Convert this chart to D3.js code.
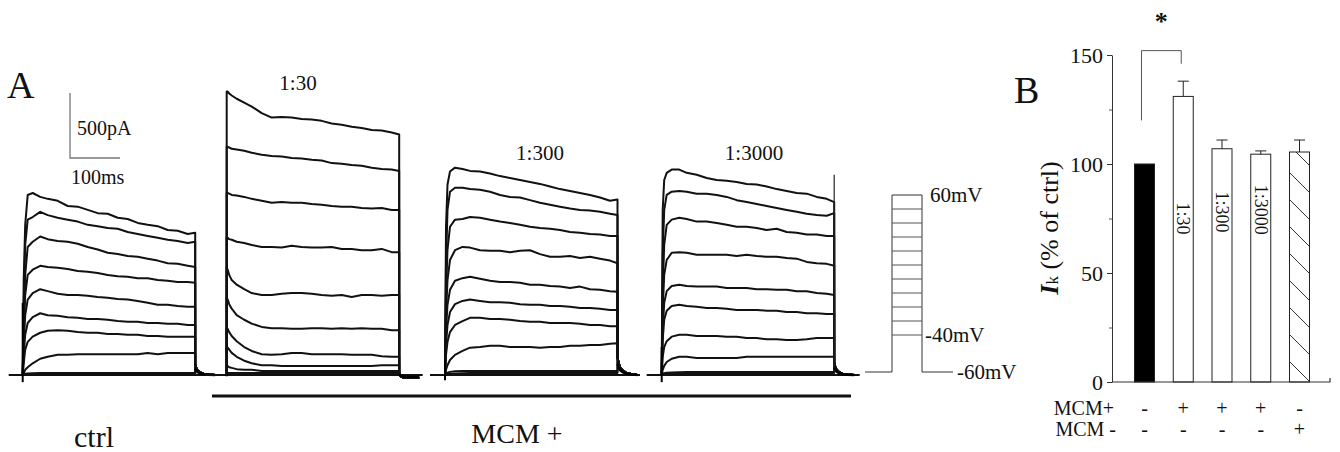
<!DOCTYPE html>
<html><head><meta charset="utf-8">
<script src="https://cdn.jsdelivr.net/npm/d3@7"></script>
<style>
body{margin:0;background:#fff}
svg{display:block}
svg text{font-family:"Liberation Serif","Tinos","DejaVu Serif","Times New Roman",Times,serif !important;fill:#111}
</style>
</head><body>
<svg id="c" width="1340" height="452" font-family="Liberation Serif, Tinos, DejaVu Serif, serif"></svg>
<script>
// ---------- DATA: panel A (current traces, pA vs ms) ----------
const timesMs = [0,2,5,10,20,35,50,70,90,110,130,150,170,190,210,230,250,270,290,310,330,345];
const tailTimesMs = [345,347,350,355,362,372,385];
const panelLabels = ["ctrl","1:30","1:300","1:3000"];

const ctrlTraces = [
  [0,730,1155,1385,1400,1370,1355,1340,1300,1295,1270,1245,1240,1210,1200,1170,1155,1145,1115,1110,1085,1095],
  [0,540,1000,1195,1215,1255,1230,1210,1195,1180,1155,1145,1130,1125,1100,1085,1070,1055,1040,1030,1015,1025],
  [0,385,770,985,1025,1065,1045,1030,1025,1010,985,965,940,930,915,910,895,880,860,855,840,830],
  [0,310,615,770,810,840,830,825,815,800,795,785,770,760,755,745,745,730,725,715,715,710],
  [0,230,460,580,630,660,645,625,615,615,610,600,595,585,580,570,555,540,540,530,525,525],
  [0,155,310,400,445,475,460,455,445,440,430,430,425,415,410,410,400,400,395,395,385,385],
  [0,90,195,255,295,325,340,345,340,330,325,325,315,315,310,310,300,300,295,295,295,295],
  [0,15,40,60,90,125,140,155,155,160,160,160,160,160,160,160,170,160,170,170,170,170],
  [0,5,10,12,14,15,15,15,15,15,15,15,15,15,15,15,15,15,15,15,15,15],
  [0,3,5,6,7,8,8,8,8,8,8,8,8,8,8,8,8,8,8,8,8,8]
];
const mcm30Traces = [
  [2180,2180,2165,2150,2125,2095,2065,2015,1980,1985,1980,1970,1965,1955,1935,1925,1910,1900,1885,1880,1865,1850],
  [1755,1755,1750,1740,1735,1725,1710,1695,1685,1680,1670,1665,1655,1650,1630,1625,1615,1610,1595,1585,1580,1570],
  [1400,1400,1395,1385,1380,1370,1355,1340,1325,1330,1325,1325,1315,1310,1300,1295,1295,1285,1280,1285,1270,1270],
  [1055,1055,1045,1040,1025,1015,1000,985,985,980,995,985,980,980,985,970,970,960,960,970,945,945],
  [825,810,770,730,695,660,630,615,615,625,630,630,625,615,610,615,600,615,615,610,615,615],
  [595,580,545,510,460,425,395,370,360,360,355,355,360,360,355,360,355,360,355,355,345,345],
  [360,355,330,300,260,215,185,160,155,160,170,170,160,160,160,160,155,155,155,145,140,140],
  [215,210,195,170,140,110,90,75,75,70,70,70,70,70,70,70,70,70,70,75,75,75],
  [70,70,60,55,45,40,40,30,30,30,30,30,30,30,30,30,30,30,30,30,30,30],
  [15,15,15,15,15,15,15,15,15,15,15,15,15,15,15,15,15,15,15,15,15,15]
];
const mcm300Traces = [
  [0,1140,1465,1565,1595,1585,1570,1565,1550,1530,1515,1500,1485,1470,1450,1430,1415,1400,1385,1365,1340,1350],
  [0,845,1270,1410,1440,1440,1430,1425,1410,1385,1370,1365,1345,1325,1310,1295,1280,1270,1265,1255,1240,1230],
  [0,615,965,1140,1195,1200,1215,1210,1195,1180,1170,1155,1140,1130,1125,1115,1100,1095,1085,1080,1070,1070],
  [0,460,730,885,960,985,980,960,955,955,945,955,960,930,910,910,915,900,910,895,880,860],
  [0,345,540,655,725,745,755,740,725,715,715,710,695,695,685,680,670,680,660,655,645,640],
  [0,230,385,485,545,570,580,570,560,560,555,545,540,540,530,530,525,515,515,510,500,500],
  [0,155,255,330,385,415,440,440,430,430,425,415,410,410,400,400,400,395,385,385,375,375],
  [0,40,75,115,155,185,210,215,225,225,215,215,215,210,215,215,225,225,230,230,240,245],
  [0,10,18,24,28,30,30,30,30,30,30,30,30,30,30,30,30,30,30,30,30,30],
  [0,5,8,10,12,14,15,15,15,15,15,15,15,15,15,15,15,15,15,15,15,15]
];
const mcm3000Traces = [
  [0,1270,1500,1555,1580,1580,1555,1540,1515,1500,1495,1485,1470,1465,1450,1430,1415,1400,1395,1370,1355,1330],
  [0,925,1270,1385,1410,1415,1410,1395,1395,1385,1370,1345,1330,1315,1300,1285,1270,1255,1240,1230,1225,1245],
  [0,655,1000,1155,1195,1210,1200,1180,1180,1170,1155,1140,1140,1130,1115,1125,1100,1095,1080,1080,1070,1070],
  [0,500,770,885,940,945,940,925,925,925,925,915,925,915,910,910,900,895,870,860,855,840],
  [0,345,555,645,685,695,685,680,680,680,670,670,670,660,660,655,655,645,645,630,625,615],
  [0,270,425,495,530,540,530,525,515,515,510,500,500,500,495,495,485,485,475,475,470,470],
  [0,140,215,260,295,310,310,300,300,300,295,295,285,285,275,275,270,270,275,285,285,285],
  [0,40,70,100,125,140,140,130,130,130,130,130,140,140,140,140,140,140,140,140,140,140],
  [0,8,14,18,20,22,23,23,23,23,23,23,23,23,23,23,23,23,23,23,23,23],
  [0,4,8,10,12,14,15,15,15,15,15,15,15,15,15,15,15,15,15,15,15,15]
];
const tailCurrents = [
  [80,55,35,20,10,4,0],
  [10,-5,-15,-20,-22,-22,-22],
  [140,95,60,35,18,8,0],
  [95,65,40,22,10,4,0]
];
const onsetTransientUp = [555,0,115,215];
const onsetTransientDown = [-55,-10,-40,-55];
const offsetTransientUp = [0,0,0,1540];
const baselineSpanMs = [[-28,385],[-43,392],[-30,390],[-30,396]];

// voltage protocol
const stepVoltages = [60,50,40,30,20,10,0,-10,-20,-30,-40];
const holdingVoltage = -60;
const protocolLabels = ["60mV","-40mV","-60mV"];

// ---------- DATA: panel B ----------
const barCats = ["ctrl","1:30","1:300","1:3000","MCM-"];
const barValues = [100,131,107,104.5,105.5];
const barErrors = [0,7,4,1.5,5.5];
const barInnerLabels = ["","1:30","1:300","1:3000",""];
const mcmPlusRow = ["-","+","+","+","-"];
const mcmMinusRow = ["-","-","-","-","+"];
const yTickValues = [0,50,100,150];
const yMinorTicks = [25,75,125];
const sigBracket = {from:0,to:1,top:152,leftEnd:120,rightEnd:146,label:"*"};

// ---------- DRAW ----------
const SERIF = "Liberation Serif, Tinos, DejaVu Serif, Times New Roman, serif";
const svg = d3.select("#c");
svg.append("rect").attr("width",1340).attr("height",452).attr("fill","#fff");
function txt(g, x, y, s, size){
  return g.append("text").attr("x",x).attr("y",y).attr("font-size",size)
    .attr("font-family",SERIF).text(s);
}

const allTraces = [ctrlTraces, mcm30Traces, mcm300Traces, mcm3000Traces];
const onsetX = [22.7, 226.7, 445, 661.7];
const yI = d3.scaleLinear().domain([0,500]).range([375,310]);
const xScales = onsetX.map(x0 => d3.scaleLinear().domain([0,345]).range([x0, x0+172.5]));

const gA = svg.append("g");
allTraces.forEach((traces, p) => {
  const xs = xScales[p];
  const line = d3.line().x(d=>xs(d[0])).y(d=>yI(d[1]));
  gA.append("path")
    .attr("d", line([[baselineSpanMs[p][0],0],[baselineSpanMs[p][1],0]]))
    .attr("stroke","#111").attr("stroke-width",2.2).attr("fill","none");
  traces.forEach(vals => {
    const pts = [[0,0]].concat(timesMs.map((t,i)=>[t, vals[i]]))
      .concat(tailTimesMs.map((t,i)=>[t, tailCurrents[p][i]]));
    gA.append("path").attr("d", line(pts))
      .attr("stroke","#111").attr("stroke-width",2).attr("fill","none")
      .attr("stroke-linejoin","round");
  });
  gA.append("path").attr("d", line([[0,onsetTransientDown[p]],[0,onsetTransientUp[p]]]))
    .attr("stroke","#000").attr("stroke-width",2).attr("fill","none");
  if (offsetTransientUp[p] > 0) {
    gA.append("path").attr("d", line([[345,0],[345,offsetTransientUp[p]]]))
      .attr("stroke","#222").attr("stroke-width",1.2).attr("fill","none");
  }
  gA.append("path").attr("d", line(tailTimesMs.map((t,i)=>[t, tailCurrents[p][i]*0.6])))
    .attr("stroke","#000").attr("stroke-width",2.4).attr("fill","none");
});

// scale bar (500 pA, 100 ms)
const sbX = 70, sbY = 158;
const sbW = xScales[0](100) - xScales[0](0);
const sbH = yI(0) - yI(500);
gA.append("path").attr("d",`M${sbX},${sbY-sbH}V${sbY}H${sbX+sbW}`)
  .attr("stroke","#777").attr("stroke-width",1.3).attr("fill","none");
txt(gA,77,135,"500pA",20);
txt(gA,71,184,"100ms",20);

txt(svg,7,98,"A",38);

const dilLabelPos = [[298,90],[540,160],[754,160]];
[1,2,3].forEach((p,i)=>{
  txt(svg,dilLabelPos[i][0],dilLabelPos[i][1],panelLabels[p],21).attr("text-anchor","middle");
});

txt(svg,94,447,panelLabels[0],30).attr("text-anchor","middle");
svg.append("line").attr("x1",212).attr("x2",851).attr("y1",396).attr("y2",396)
  .attr("stroke","#111").attr("stroke-width",3.2);
txt(svg,517,443,"MCM +",28).attr("text-anchor","middle");

// voltage protocol
const yV = d3.scaleLinear().domain([-60,-40,60]).range([372,335,195]);
const pL = 892, pR = 922;
const gP = svg.append("g").attr("stroke","#333").attr("stroke-width",1).attr("fill","none");
gP.append("path").attr("d",`M865,${yV(holdingVoltage)}H${pL}V${yV(60)}`);
gP.append("path").attr("d",`M953,${yV(holdingVoltage)}H${pR}V${yV(60)}`);
stepVoltages.forEach(v=>{
  gP.append("line").attr("x1",pL).attr("x2",pR).attr("y1",yV(v)).attr("y2",yV(v))
    .attr("stroke", v===60 ? "#333" : "#555");
});
txt(svg,930,yV(60)+7,protocolLabels[0],21);
txt(svg,925,yV(-40)+7,protocolLabels[1],21);
txt(svg,957,yV(-60)+7,protocolLabels[2],21);

// ---------- Panel B ----------
const yB = d3.scaleLinear().domain([0,150]).range([382,55]);
const xB = d3.scaleBand().domain(barCats).range([1114,1330]).paddingInner(0.484).paddingOuter(0.529);
const gB = svg.append("g");

const defs = svg.append("defs");
const pat = defs.append("pattern").attr("id","hatch").attr("patternUnits","userSpaceOnUse")
  .attr("width",27).attr("height",27).attr("y",yB(105.5));
pat.append("rect").attr("width",27).attr("height",27).attr("fill","#fff");
pat.append("path").attr("d","M-1,-1L28,28M-28,-1L1,28M26,-1L55,28").attr("stroke","#333").attr("stroke-width",1);

barCats.forEach((c,i)=>{
  const x = xB(c), w = xB.bandwidth();
  gB.append("rect").attr("x",x).attr("y",yB(barValues[i])).attr("width",w)
    .attr("height",yB(0)-yB(barValues[i]))
    .attr("fill", i===0 ? "#000" : (i===4 ? "url(#hatch)" : "#fff"))
    .attr("stroke","#222").attr("stroke-width",1);
  if (barErrors[i] > 0) {
    const cx = x + w/2;
    gB.append("path").attr("d",`M${cx},${yB(barValues[i])}V${yB(barValues[i]+barErrors[i])}M${cx-5.5},${yB(barValues[i]+barErrors[i])}H${cx+5.5}`)
      .attr("stroke","#222").attr("stroke-width",1).attr("fill","none");
  }
});
const innerLabelPosY = [0,75,78,79,0];
barInnerLabels.forEach((l,i)=>{
  if(!l) return;
  const cx = xB(barCats[i]) + xB.bandwidth()/2;
  gB.append("text").attr("transform",`translate(${cx},${yB(innerLabelPosY[i])}) rotate(90)`)
    .attr("font-family",SERIF)
    .attr("text-anchor","middle").attr("dominant-baseline","central").attr("font-size",18).text(l);
});

const axisY = gB.append("g").attr("transform","translate(1112,0)")
  .call(d3.axisLeft(yB).tickValues(yTickValues).tickSize(5).tickSizeOuter(0).tickFormat(d3.format("d")));
axisY.attr("font-family",SERIF);
axisY.selectAll("text").attr("font-size",22).attr("font-family",SERIF).attr("fill","#222").attr("dx","-1");
axisY.selectAll("path,line").attr("stroke","#333");
const axisYm = gB.append("g").attr("transform","translate(1112,0)")
  .call(d3.axisLeft(yB).tickValues(yMinorTicks).tickSize(3).tickSizeOuter(0).tickFormat(""));
axisYm.select("path").remove();
axisYm.selectAll("line").attr("stroke","#555");
gB.append("path").attr("d",`M1112,${yB(0)}H1330V${yB(0)-4}`).attr("stroke","#333").attr("stroke-width",1.2).attr("fill","none");

const yl = gB.append("text").attr("transform","translate(1058,228) rotate(-90)")
  .attr("font-family",SERIF).attr("text-anchor","middle").attr("font-size",26);
yl.append("tspan").attr("font-style","italic").attr("font-weight","bold").text("I");
yl.append("tspan").attr("font-size",17).text("k");
yl.append("tspan").text(" (% of ctrl)");

const bx1 = xB(barCats[sigBracket.from]) + xB.bandwidth()/2 - 3;
const bx2 = xB(barCats[sigBracket.to]) + xB.bandwidth()/2 - 2;
gB.append("path").attr("d",`M${bx1},${yB(sigBracket.leftEnd)}V${yB(sigBracket.top)}H${bx2}V${yB(sigBracket.rightEnd)}`)
  .attr("stroke","#555").attr("stroke-width",1).attr("fill","none");
txt(gB,(bx1+bx2)/2,30,sigBracket.label,26).attr("text-anchor","middle").attr("font-weight","bold");

txt(svg,1014,103,"B",38);

txt(gB,1114,415,"MCM+",20).attr("text-anchor","end");
txt(gB,1116,436,"MCM -",20).attr("text-anchor","end");
barCats.forEach((c,i)=>{
  const cx = xB(c) + xB.bandwidth()/2;
  txt(gB,cx,415,mcmPlusRow[i],20).attr("text-anchor","middle").attr("fill","#333");
  txt(gB,cx,436,mcmMinusRow[i],20).attr("text-anchor","middle").attr("fill","#333");
});
</script>
</body></html>
